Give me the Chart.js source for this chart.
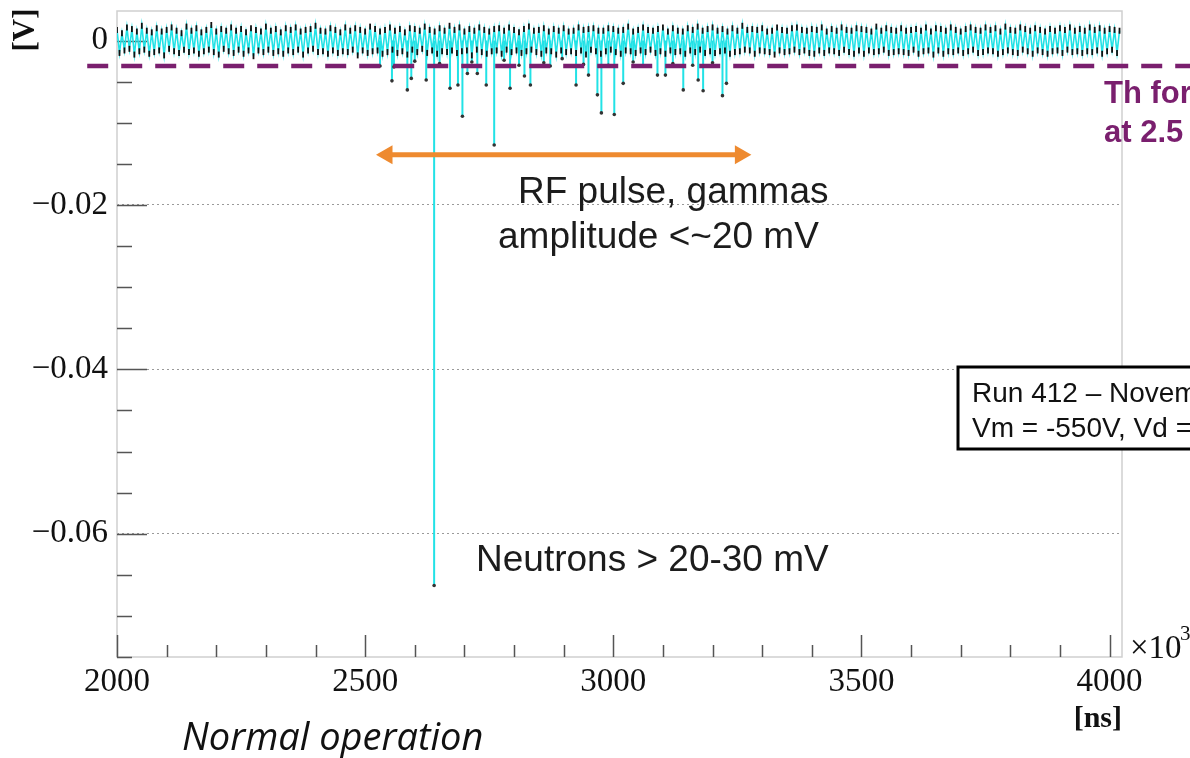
<!DOCTYPE html>
<html>
<head>
<meta charset="utf-8">
<script src="https://cdn.jsdelivr.net/npm/chart.js@4.4.1/dist/chart.umd.min.js"></script>
<style>
  body { margin: 0; background: #fff; }
  #wrap { position: relative; width: 1190px; height: 758px; }
</style>
</head>
<body>
<div id="wrap"><canvas id="scope" width="1190" height="758"></canvas></div>
<script>
// time [ns] on x, amplitude [V] on y
const xMin = 2000, xMax = 4025;
const yMin = -0.075, yMax = 0.0036;

// baseline noise, one sample every 5 ns starting at 2000 ns
const noiseStart = 2000;
const noiseStep = 5;
const noiseV = [
  0.0013,-0.0015,0.0009,-0.0012,0.0016,-0.0010,0.0014,-0.0017,0.0011,-0.0013,0.0018,-0.0011,0.0012,-0.0016,0.0010,
  -0.0014,0.0015,-0.0012,0.0011,-0.0018,0.0013,-0.0010,0.0016,-0.0013,0.0012,-0.0015,0.0009,-0.0011,0.0017,-0.0014,
  0.0012,-0.0012,0.0015,-0.0016,0.0010,-0.0013,0.0013,-0.0011,0.0019,-0.0014,0.0011,-0.0017,0.0014,-0.0010,0.0012,
  -0.0013,0.0016,-0.0015,0.0012,-0.0011,0.0014,-0.0016,0.0010,-0.0012,0.0015,-0.0019,0.0013,-0.0012,0.0011,-0.0014,
  0.0017,-0.0011,0.0012,-0.0015,0.0014,-0.0013,0.0010,-0.0016,0.0015,-0.0012,0.0013,-0.0014,0.0016,-0.0011,0.0011,
  -0.0017,0.0013,-0.0012,0.0014,-0.0010,0.0018,-0.0014,0.0012,-0.0013,0.0011,-0.0016,0.0015,-0.0012,0.0013,-0.0015,
  0.0010,-0.0013,0.0016,-0.0014,0.0012,-0.0011,0.0015,-0.0018,0.0013,-0.0012,0.0011,-0.0015,0.0017,-0.0013,0.0014,
  -0.0012,0.0011,-0.0016,0.0013,-0.0014,0.0016,-0.0011,0.0012,-0.0015,0.0014,-0.0013,0.0010,-0.0017,0.0015,-0.0011,
  0.0014,-0.0014,0.0012,-0.0010,0.0017,-0.0015,0.0013,-0.0012,0.0011,-0.0016,0.0015,-0.0013,0.0012,-0.0014,0.0018,
  -0.0012,0.0013,-0.0015,0.0016,-0.0013,0.0011,-0.0012,0.0014,-0.0018,0.0012,-0.0011,0.0016,-0.0014,0.0013,-0.0016,
  0.0011,-0.0013,0.0014,-0.0012,0.0015,-0.0016,0.0012,-0.0011,0.0016,-0.0014,0.0013,-0.0012,0.0010,-0.0015,0.0014,
  -0.0013,0.0017,-0.0011,0.0012,-0.0014,0.0013,-0.0016,0.0015,-0.0012,0.0011,-0.0013,0.0014,-0.0017,0.0012,-0.0012,
  0.0015,-0.0014,0.0011,-0.0013,0.0012,-0.0015,0.0016,-0.0012,0.0013,-0.0017,0.0014,-0.0011,0.0015,-0.0013,0.0012,
  -0.0016,0.0012,-0.0013,0.0015,-0.0011,0.0014,-0.0014,0.0012,-0.0016,0.0013,-0.0012,0.0017,-0.0013,0.0011,-0.0015,
  0.0013,-0.0012,0.0016,-0.0014,0.0013,-0.0011,0.0012,-0.0015,0.0014,-0.0013,0.0016,-0.0016,0.0011,-0.0012,0.0015,
  -0.0014,0.0012,-0.0013,0.0011,-0.0016,0.0015,-0.0012,0.0013,-0.0014,0.0017,-0.0011,0.0012,-0.0015,0.0014,-0.0013,
  0.0016,-0.0015,0.0012,-0.0013,0.0014,-0.0012,0.0011,-0.0016,0.0015,-0.0014,0.0012,-0.0013,0.0018,-0.0011,0.0013,
  -0.0012,0.0014,-0.0016,0.0013,-0.0012,0.0015,-0.0013,0.0011,-0.0014,0.0012,-0.0017,0.0016,-0.0012,0.0013,-0.0014,
  0.0012,-0.0013,0.0015,-0.0011,0.0016,-0.0014,0.0013,-0.0012,0.0012,-0.0015,0.0014,-0.0016,0.0013,-0.0012,0.0016,
  -0.0015,0.0011,-0.0012,0.0014,-0.0013,0.0012,-0.0015,0.0016,-0.0011,0.0013,-0.0014,0.0012,-0.0016,0.0015,-0.0012,
  0.0014,-0.0016,0.0013,-0.0012,0.0011,-0.0014,0.0017,-0.0013,0.0012,-0.0011,0.0015,-0.0015,0.0013,-0.0014,0.0012,
  -0.0013,0.0015,-0.0014,0.0012,-0.0015,0.0013,-0.0011,0.0014,-0.0016,0.0012,-0.0013,0.0016,-0.0012,0.0011,-0.0017,
  0.0015,-0.0012,0.0014,-0.0016,0.0012,-0.0013,0.0016,-0.0014,0.0013,-0.0012,0.0011,-0.0015,0.0014,-0.0013,0.0016,
  -0.0011,0.0013,-0.0015,0.0012,-0.0014,0.0016,-0.0012,0.0013,-0.0013,0.0015,-0.0016,0.0011,-0.0014,0.0017,-0.0012,
  0.0013,-0.0014,0.0012,-0.0015,0.0016,-0.0011,0.0014,-0.0013,0.0012,-0.0016,0.0015,-0.0012,0.0013,-0.0014,0.0011,
  -0.0016,0.0014,-0.0013,0.0012,-0.0012,0.0015,-0.0015,0.0013,-0.0011,0.0016,-0.0014,0.0012,-0.0013,0.0014,-0.0015,
  0.0012,-0.0013,0.0016,-0.0014,0.0013,-0.0012,0.0015,-0.0016,0.0012,-0.0013,0.0014,-0.0011,0.0013,-0.0015,0.0012
];

// pulses that drop out of the band (RF gammas, one neutron)
const pulseX = [2530, 2554, 2558, 2585, 2593, 2600, 2623, 2639, 2650, 2671, 2687, 2696, 2706, 2715, 2726,
  2744, 2760, 2780, 2792, 2810, 2821, 2833, 2860, 2873, 2897, 2925, 2940, 2950, 2968, 2976, 2990,
  3002, 3020, 3040, 3060, 3089, 3105, 3120, 3141, 3160, 3171, 3181, 3200, 3220, 3228];
const pulseV = [-0.0031, -0.0049, -0.0032, -0.0060, -0.0046, -0.0025, -0.0048, -0.0663, -0.0028, -0.0058, -0.0054, -0.0092, -0.0040, -0.0026, -0.0040,
  -0.0054, -0.0127, -0.0024, -0.0058, -0.0030, -0.0043, -0.0054, -0.0027, -0.0031, -0.0022, -0.0054, -0.0029, -0.0042, -0.0066, -0.0088, -0.0030,
  -0.0090, -0.0052, -0.0026, -0.0031, -0.0042, -0.0042, -0.0028, -0.0060, -0.0030, -0.0048, -0.0061, -0.0027, -0.0067, -0.0052];

// trigger threshold (dashed) and RF window arrow
const thresholdV = -0.0031;
const thresholdX = [1940, 4165];
const arrowX = [2544, 3256];
const arrowV = -0.0139;

const cyan = '#22e2e6';
const purple = '#7a1f6e';
const orange = '#ee8a2f';

const noiseData = noiseV.map((v, i) => ({ x: noiseStart + i * noiseStep, y: v }));
const pulseData = [];
pulseX.forEach((px, i) => {
  pulseData.push({ x: px, y: 0 }, { x: px, y: pulseV[i] }, { x: px, y: null });
});

const overlay = {
  id: 'overlay',
  beforeDatasetsDraw(chart) {
    const { ctx, chartArea: a, scales: { x, y } } = chart;
    ctx.save();
    ctx.strokeStyle = '#cfcfcf';
    ctx.lineWidth = 1.5;
    ctx.strokeRect(a.left, a.top, a.right - a.left, a.bottom - a.top);
    // ROOT style ticks, pointing inside
    ctx.strokeStyle = '#555';
    ctx.lineWidth = 1.5;
    ctx.beginPath();
    y.ticks.forEach(t => {
      const py = Math.round(y.getPixelForValue(t.value)) + 0.5;
      ctx.moveTo(a.left, py);
      ctx.lineTo(a.left + (t.label ? 30 : 15), py);
    });
    x.ticks.forEach(t => {
      const px = Math.round(x.getPixelForValue(t.value)) + 0.5;
      ctx.moveTo(px, a.bottom);
      ctx.lineTo(px, a.bottom - (t.label ? 22 : 12));
    });
    ctx.stroke();
    ctx.restore();
  },
  afterDraw(chart) {
    const { ctx } = chart;
    ctx.save();
    ctx.fillStyle = '#111';
    ctx.textBaseline = 'alphabetic';

    // axis titles
    ctx.save();
    ctx.translate(34, 30);
    ctx.rotate(-Math.PI / 2);
    ctx.font = 'bold 31px "Liberation Serif"';
    ctx.textAlign = 'center';
    ctx.fillText('[V]', 0, 0);
    ctx.restore();

    ctx.font = '33px "Liberation Serif"';
    ctx.textAlign = 'left';
    ctx.fillText('×10', 1130, 658);
    ctx.font = '21px "Liberation Serif"';
    ctx.fillText('3', 1180, 640);

    ctx.font = 'bold 30px "Liberation Serif"';
    ctx.textAlign = 'right';
    ctx.fillText('[ns]', 1122, 727);

    ctx.textAlign = 'left';
    ctx.font = 'italic 38px "Open Sans"';
    ctx.fillText('Normal operation', 182, 750);

    // annotations
    ctx.fillStyle = '#1c1c1c';
    ctx.font = '37px "Liberation Sans"';
    ctx.fillText('RF pulse, gammas', 518, 203);
    ctx.fillText('amplitude <~20 mV', 498, 248);
    ctx.fillText('Neutrons > 20-30 mV', 476, 571);

    ctx.fillStyle = purple;
    ctx.font = 'bold 31px "Liberation Sans"';
    ctx.fillText('Th for', 1104, 103);
    ctx.fillText('at 2.5', 1104, 142);

    // run info box
    ctx.fillStyle = '#fff';
    ctx.fillRect(958, 367, 260, 82);
    ctx.strokeStyle = '#000';
    ctx.lineWidth = 3;
    ctx.strokeRect(958, 367, 260, 82);
    ctx.fillStyle = '#111';
    ctx.font = '28px "Liberation Sans"';
    ctx.fillText('Run 412 – November', 972, 402);
    ctx.fillText('Vm = -550V, Vd =', 972, 437);
    ctx.restore();
  }
};

const serif = { family: 'Liberation Serif', size: 33 };

new Chart(document.getElementById('scope'), {
  type: 'line',
  data: {
    datasets: [
      {
        label: 'threshold',
        data: thresholdX.map(v => ({ x: v, y: thresholdV })),
        borderColor: purple,
        borderWidth: 4.5,
        borderDash: [21, 13],
        pointRadius: 0,
        clip: false,
        order: 0
      },
      {
        label: 'RF window',
        data: arrowX.map(v => ({ x: v, y: arrowV })),
        borderColor: orange,
        backgroundColor: orange,
        borderWidth: 5,
        pointStyle: 'triangle',
        pointRadius: 11,
        pointBorderWidth: 0,
        pointBackgroundColor: orange,
        pointRotation: ctx => ctx.dataIndex === 0 ? -90 : 90,
        order: 1
      },
      {
        label: 'noise',
        data: noiseData,
        borderColor: cyan,
        borderWidth: 1.6,
        pointStyle: 'line',
        pointRotation: 90,
        pointRadius: 3,
        pointBorderWidth: 1.8,
        pointBorderColor: '#111',
        order: 2
      },
      {
        label: 'pulses',
        data: pulseData,
        borderColor: cyan,
        borderWidth: 2,
        spanGaps: false,
        pointRadius: ctx => (ctx.raw && ctx.raw.y < 0) ? 1.8 : 0,
        pointBorderWidth: 0,
        pointBackgroundColor: '#333',
        order: 3
      }
    ]
  },
  options: {
    responsive: false,
    animation: false,
    devicePixelRatio: 1,
    layout: { padding: { top: 7, right: 68, left: 0, bottom: 0 } },
    plugins: { legend: { display: false }, tooltip: { enabled: false } },
    elements: { line: { tension: 0 } },
    scales: {
      x: {
        type: 'linear',
        min: xMin,
        max: xMax,
        afterFit: s => { s.height = 101; s.paddingLeft = 0; s.paddingRight = 0; },
        grid: { display: false, drawTicks: false },
        border: { display: false },
        ticks: {
          stepSize: 100,
          includeBounds: false,
          autoSkip: false,
          maxRotation: 0,
          minRotation: 0,
          padding: 6,
          color: '#111',
          font: serif,
          callback: v => (Math.round(v) % 500 === 0 ? String(v) : '')
        }
      },
      y: {
        type: 'linear',
        min: yMin,
        max: yMax,
        afterFit: s => { s.width = 117; s.paddingTop = 0; s.paddingBottom = 0; },
        grid: {
          drawTicks: false,
          lineWidth: 1,
          color: c => {
            const m = Math.round(c.tick.value * 1000);
            return (m !== 0 && m % 20 === 0) ? '#9a9a9a' : 'rgba(0,0,0,0)';
          }
        },
        border: { display: false, dash: [2, 3] },
        ticks: {
          stepSize: 0.005,
          includeBounds: false,
          autoSkip: false,
          padding: 9,
          color: '#111',
          font: serif,
          callback: v => {
            const m = Math.round(v * 1000);
            if (m % 20 !== 0) return '';
            return m === 0 ? '0' : '\u2212' + Math.abs(v).toFixed(2);
          }
        }
      }
    }
  },
  plugins: [overlay]
});
</script>
</body>
</html>
